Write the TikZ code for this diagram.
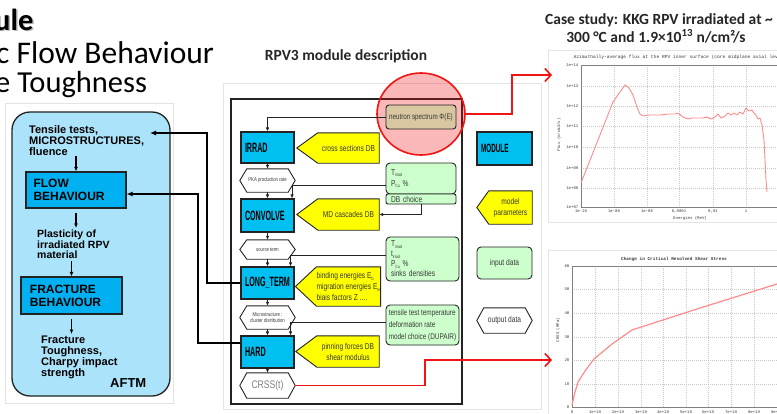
\documentclass[tikz,border=0pt]{standalone}
\usepackage{fontspec}
\setmainfont{Liberation Sans}
\newfontfamily\carlito{Carlito}
\newfontfamily\narrowreg[FakeStretch=0.78]{Liberation Sans}
\newfontfamily\narrowbf[FakeStretch=0.53]{Liberation Sans}
\newfontfamily\monofnt{Liberation Mono}
\usetikzlibrary{arrows.meta,shapes.geometric,backgrounds}
\newcommand\setfs[2]{\fontsize{#1}{#2}\selectfont}
\newcommand\lowtxt[1]{\raisebox{-0.4ex}{\setfs{4.5}{5}#1}}

\definecolor{aftmbg}{RGB}{170,227,250}
\definecolor{aftmblue}{RGB}{0,176,240}
\definecolor{modblue}{RGB}{0,192,242}
\definecolor{ylw}{RGB}{255,255,0}
\definecolor{grn}{RGB}{204,255,204}
\definecolor{nstan}{RGB}{216,199,161}
\definecolor{edge}{RGB}{35,35,35}
\definecolor{txtg}{RGB}{55,55,55}
\definecolor{pinkc}{RGB}{255,140,140}
\definecolor{gridc}{RGB}{200,200,200}
\definecolor{framec}{RGB}{228,228,228}
\definecolor{redc}{RGB}{240,20,20}

\tikzset{
 aftmtext/.style={anchor=north west, align=left, inner sep=0, font=\bfseries\setfs{11}{11}},
 aftmbox/.style={draw=edge, line width=1.1pt, fill=aftmblue, font=\bfseries\setfs{12}{13}, align=left, inner ysep=0},
 modbox/.style={draw=edge, line width=1.1pt, fill=modblue, font=\narrowbf\bfseries\setfs{13.5}{14}, text width=45pt, inner xsep=4pt, inner ysep=0, minimum width=53pt, align=left},
 ytext/.style={inner sep=0, font=\narrowreg\setfs{8.5}{11}, text=txtg, align=center},
 ydraw/.style={draw=edge, line width=0.9pt, fill=ylw},
 hexnode/.style={inner sep=0, font=\narrowreg\setfs{5.5}{6.5}, text=txtg, align=center},
 hexdraw/.style={draw=edge, line width=0.9pt, fill=white},
 gbox/.style={draw=edge, line width=0.9pt, fill=grn, rounded corners=4pt, inner sep=0, font=\narrowreg\setfs{8.5}{11}, text=txtg},
 conn/.style={draw=edge, line width=0.9pt, -{Latex[length=4pt,width=3.5pt]}},
 aarr/.style={draw=black, line width=1.1pt, -{Latex[length=4.5pt,width=4pt]}},
 bigconn/.style={draw=black, line width=1.1pt, -{Latex[length=6pt,width=5pt]}},
 redconn/.style={draw=redc, line width=1.6pt, -{Straight Barb[length=6pt,width=13pt]}},
 charttxt/.style={font=\monofnt\setfs{4}{4}, inner sep=0.5pt, text=txtg},
 gridline/.style={draw=gridc, line width=0.3pt, dash pattern=on 1pt off 1pt},
 curve/.style={draw=pinkc, line width=0.9pt, line join=round},
}

\begin{document}
\begin{tikzpicture}[x=1pt,y=-1pt]
\useasboundingbox (0,0) rectangle (777,413);
\begin{pgfonlayer}{background}
\fill[white] (0,0) rectangle (777,413);
\end{pgfonlayer}

% faint frames
\draw[framec, line width=0.6pt] (5,103) rectangle (173,403);
\draw[framec, line width=0.6pt] (223,83) rectangle (541,409);
\draw[framec, line width=0.6pt] (548,50) rectangle (800,222);
\draw[framec, line width=0.6pt] (548,250) rectangle (800,420);

% titles
\node[anchor=base west, inner sep=0, font=\carlito\bfseries\setfs{30.5}{30}, text=black!45, opacity=0.6] (t1s) at (-4.5,31.5) {ule};
\node[anchor=base west, inner sep=0, font=\carlito\bfseries\setfs{30.5}{30}] (t1) at (-6,30) {ule};
\node[anchor=base west, inner sep=0, font=\carlito\setfs{31.5}{30}] (t2) at (-4,63) {c Flow Behaviour};
\node[anchor=base west, inner sep=0, font=\carlito\setfs{30.5}{30}] (t3) at (-5,92) {e Toughness};
\node[anchor=base, inner sep=0, font=\carlito\bfseries\setfs{15.5}{16}, text=black!85] (rpvt) at (346,60) {RPV3 module description};
\node[anchor=base, inner sep=0, font=\carlito\bfseries\setfs{15.5}{16}, text=black!85] (cs1) at (659,24) {Case study: KKG RPV irradiated at \textasciitilde};
\node[anchor=base, inner sep=0, font=\carlito\bfseries\setfs{15.5}{16}, text=black!85] (cs2) at (656,42) {300 °C and 1.9×10\textsuperscript{13} n/cm²/s};

% AFTM panel
\node[draw=edge, line width=1.3pt, fill=aftmbg, rounded corners=18pt, minimum width=158pt, minimum height=284pt, inner sep=0] (aftm) at (91,254) {};
\node[aftmtext] (tt) at (29,125) {Tensile tests,\\MICROSTRUCTURES,\\fluence};
\node[aftmbox, minimum width=100pt, minimum height=36pt, text width=85pt, inner xsep=7.5pt] (flow) at (76,190) {FLOW\\BEHAVIOUR};
\node[aftmtext, font=\bfseries\setfs{10.5}{10.5}] (plast) at (37,230) {Plasticity of\\irradiated RPV\\material};
\node[aftmbox, minimum width=101pt, minimum height=37pt, text width=83pt, inner xsep=9pt] (frac) at (71.5,295.5) {FRACTURE\\BEHAVIOUR};
\node[aftmtext] (ft) at (41,336) {Fracture\\Toughness,\\Charpy impact\\strength};
\node[anchor=base west, inner sep=0, font=\bfseries\setfs{13}{13}] (aftmlbl) at (110,387) {AFTM};
\draw[aarr] ([yshift=-1pt]tt.south -| flow.north) -- (flow.north);
\draw[aarr] ([yshift=-4pt]flow.south) -- ([yshift=2pt]plast.north -| flow.south);
\draw[aarr] ([yshift=-2pt]plast.south -| frac.north) -- (frac.north);
\draw[aarr] ([yshift=-4pt]frac.south) -- ([yshift=2pt]ft.north -| frac.south);

% RPV3 module panel
\draw[edge, line width=1.3pt] (231,99) rectangle (462,404);
\node[ellipse, draw=redc, line width=1.6pt, fill=redc, fill opacity=0.3, minimum width=88pt, minimum height=82pt, inner sep=0] (ell) at (421,114) {};
\node[draw=edge, line width=0.9pt, fill=nstan, rounded corners=3pt, minimum width=70pt, minimum height=24pt, inner sep=0, font=\narrowreg\setfs{8}{9}, text=txtg] (ns) at (421,117) {neutron spectrum Φ(E)};

\node[modbox, minimum height=31pt] (irrad) at (267.5,147.5) {IRRAD};
\node[ytext, minimum width=61pt, minimum height=30pt] (xs) at (348.5,148) {cross sections DB};
\node[hexnode, minimum width=55pt, minimum height=23pt] (pka) at (267.5,180.5) {PKA production rate};
\node[gbox, minimum width=70pt, minimum height=31pt, text width=60pt, inner xsep=5pt, align=left] (gb1) at (421,178.5) {T\lowtxt{irrad}\\P\lowtxt{Cu} \%};
\node[gbox, rounded corners=2pt, minimum width=70pt, minimum height=10pt, text width=60pt, inner xsep=5pt, align=left, font=\narrowreg\setfs{8.5}{9}] (dbc) at (421,199) {DB choice};
\node[modbox, minimum height=33pt] (conv) at (267.5,215.5) {CONVOLVE};
\node[ytext, minimum width=61pt, minimum height=31pt] (mdc) at (348.5,214.5) {MD cascades DB};
\node[hexnode, minimum width=55pt, minimum height=19pt] (src) at (267.5,249.5) {source term};
\node[gbox, minimum width=73pt, minimum height=44pt, text width=63pt, inner xsep=5pt, align=left, font=\narrowreg\setfs{8.5}{10}] (gb2) at (422.5,259) {T\lowtxt{irrad}\\t\lowtxt{irrad}\\P\lowtxt{Cu} \%\\sinks densities};
\node[modbox, minimum height=32pt] (lt) at (267.5,283) {LONG\_TERM};
\node[ytext, minimum width=63pt, minimum height=39pt, align=left] (be) at (348.5,286.5) {binding energies E\lowtxt{b}\\migration energies E\lowtxt{m}\\biais factors Z ....};
\node[hexnode, minimum width=55pt, minimum height=23pt] (mic) at (267.5,317.5) {Microstructure :\\cluster distribution};
\node[gbox, minimum width=73pt, minimum height=40pt, align=left, font=\narrowreg\setfs{8.2}{12}] (gb3) at (422.5,325) {tensile test temperature\\deformation rate\\model choice (DUPAIR)};
\node[modbox, minimum height=32pt] (hard) at (267.5,352) {HARD};
\node[ytext, minimum width=62pt, minimum height=31pt] (pf) at (348,351.5) {pinning forces DB\\shear modulus};
\node[hexnode, minimum width=55pt, minimum height=25pt, font=\narrowreg\setfs{11}{11}, text=gray] (crss) at (267.5,385.5) {CRSS(t)};

% legend
\node[modbox, minimum width=55pt, minimum height=33pt, text width=47pt, font=\narrowbf\bfseries\setfs{12}{12}] (mod) at (504.5,148.5) {MODULE};
\node[ytext, minimum width=43pt, minimum height=33pt] (mp) at (510.5,207.5) {model\\parameters};
\node[gbox, minimum width=55pt, minimum height=32pt, align=center] (idata) at (504.5,263) {input data};
\node[hexnode, minimum width=55pt, minimum height=25pt, font=\narrowreg\setfs{8.5}{9}] (od) at (504.5,320.5) {output data};

\begin{pgfonlayer}{background}
\foreach \n/\d in {xs/21,mdc/21,be/21,pf/21,mp/12}
  \draw[ydraw] ([xshift=-\d pt]\n.west) -- (\n.north west) -- (\n.north east) -- (\n.south east) -- (\n.south west) -- cycle;
\foreach \n in {pka,src,mic,crss,od}
  \draw[hexdraw] (\n.west) -- ([xshift=7pt]\n.north west) -- ([xshift=-7pt]\n.north east) -- (\n.east) -- ([xshift=-7pt]\n.south east) -- ([xshift=7pt]\n.south west) -- cycle;
\end{pgfonlayer}

% connectors in module panel
\draw[conn] (ns.west) -| (irrad.north);
\draw[conn] (irrad.south) -- (pka.north);
\draw[conn] (pka.south) -- (conv.north);
\draw[conn] ([yshift=-6.5pt]gb1.west) -| ([xshift=-2.5pt]conv.north east);
\draw[conn] (dbc.south) |- (mdc.east);
\draw[conn] (conv.south) -- (src.north);
\draw[conn] (src.south) -- (lt.north);
\draw[conn] ([yshift=4pt]gb2.west) -| ([xshift=-4pt]lt.north east);
\draw[conn] (lt.south) -- (mic.north);
\draw[conn] (mic.south) -- (hard.north);
\draw[conn] ([yshift=3pt]gb3.west) -| ([xshift=-4pt]hard.north east);
\draw[conn] (hard.south) -- (crss.north);

% connectors to AFTM
\coordinate (b3) at (207,133);
\coordinate (b3t) at (150,133);
\draw[bigconn] (lt.west) -| (b3) -- (b3t);
\coordinate (b4) at (198,194);
\draw[bigconn] ([yshift=9pt]hard.west) -| (b4) -- (flow.east |- b4);

% red connectors
\coordinate (rb1) at (512,75);
\coordinate (rt1) at (552,75);
\draw[redconn] (ell.east) -| (rb1) -- (rt1);
\coordinate (rb2) at (425,360);
\coordinate (rt2) at (552,360);
\draw[redconn] (crss.east) -| (rb2) -- (rt2);

% chart 1: neutron flux
\foreach \x in {614,647,679,713,746} \draw[gridline] (\x,65) -- (\x,207);
\foreach \y in {86,106,126,147,168,188} \draw[gridline] (581,\y) -- (800,\y);
\draw[gray, line width=0.5pt] (581,65) rectangle (800,207);
\foreach \y/\l in {65/1e+14,86/1e+13,106/1e+12,126/1e+11,147/1e+10,168/1e+09,188/1e+08,207/1e+07}
  \node[charttxt, anchor=east] at (579,\y) {\l};
\foreach \x/\l in {581/1e-10,614/1e-08,647/1e-06,679/{0,0001},713/{0,01},746/1}
  \node[charttxt, anchor=north] at (\x,209) {\l};
\node[charttxt, rotate=90] at (559,135) {Flux (n/cm2/s)};
\node[charttxt] at (690,218) {Energies (MeV)};
\node[charttxt, anchor=west, font=\monofnt\setfs{4.6}{5}] at (573,57) {Azimuthally-average flux at the RPV inner surface (core midplane axial level)};
\draw[curve] (581,183) -- (613,102) -- (620,92) -- (625,85) -- (629,88) -- (633,95) -- (637,107) -- (640,114) -- (643,116) -- (650,115) -- (660,115) -- (668,114) -- (675,114) -- (678,113) -- (683,117) -- (688,119) -- (692,118) -- (697,118) -- (703,118) -- (707,117) -- (711,119) -- (715,117) -- (718,114) -- (721,118) -- (725,116) -- (728,113) -- (731,115) -- (734,113) -- (737,115) -- (740,112) -- (743,114) -- (746,108) -- (749,111) -- (752,110) -- (754,113) -- (756,115) -- (758,119) -- (760,118) -- (762,125) -- (764,140) -- (765,160) -- (766,180) -- (767,192);

% chart 2: CRSS
\foreach \x in {595,618,641,663,686,708,731,754,777} \draw[gridline] (\x,266) -- (\x,407);
\foreach \y in {289,313,337,360,384} \draw[gridline] (572,\y) -- (800,\y);
\draw[gray, line width=0.5pt] (572,266) rectangle (800,407);
\foreach \y/\l in {266/60,289/50,313/40,337/30,360/20,384/10,407/0}
  \node[charttxt, anchor=east] at (570,\y) {\l};
\foreach \x/\l in {572/0,595/1e+19,618/2e+19,641/3e+19,663/4e+19,686/5e+19,708/6e+19,731/7e+19,754/8e+19,777/9e+19}
  \node[charttxt, anchor=north] at (\x,410.5) {\l};
\node[charttxt, rotate=90] at (558,330) {CRSS (MPa)};
\node[charttxt, font=\monofnt\bfseries\setfs{4.4}{5}] at (674,259) {Change in Critical Resolved Shear Stress};
\draw[curve, line width=1.2pt] (572,405) -- (575,392) -- (578,382) -- (585,371) -- (594,359) -- (612,344) -- (632,330) -- (700,308) -- (777,284);
\end{tikzpicture}
\end{document}
